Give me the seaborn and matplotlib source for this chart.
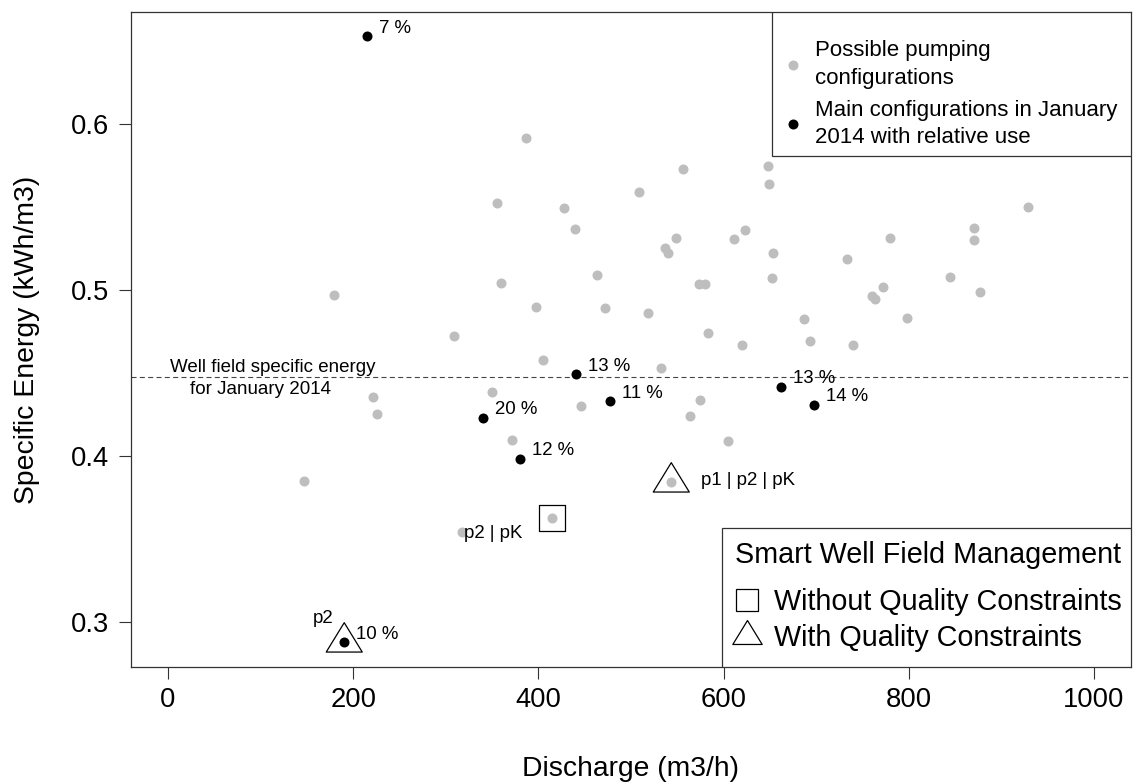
import numpy as np
import pandas as pd
import matplotlib
matplotlib.use("Agg")
import matplotlib.pyplot as plt
from matplotlib.lines import Line2D
from matplotlib.patches import Rectangle
from matplotlib.path import Path
import seaborn as sns

# possible pumping configurations (grey dots)
gray_q = [146.7, 179.5, 220.9, 225.2, 308.4, 317.8, 349.4, 355.3, 359.9, 371.7,
          386.1, 396.9, 404.8, 415.0, 428.0, 439.8, 446.3, 462.8, 471.4, 508.9,
          518.6, 532.7, 536.2, 539.8, 543.5, 548.9, 556.4, 563.8, 573.7, 574.8,
          580.2, 582.7, 605.2, 610.8, 620.0, 622.6, 647.8, 648.9, 652.5, 653.6,
          687.1, 692.8, 732.8, 739.3, 759.8, 763.0, 772.4, 780.0, 797.6, 844.8,
          870.7, 870.7, 876.4, 929.1]
gray_e = [0.3849, 0.4973, 0.4358, 0.4253, 0.4723, 0.3540, 0.4384, 0.5522, 0.5042, 0.4096,
          0.5914, 0.4898, 0.4578, 0.3625, 0.5496, 0.5367, 0.4303, 0.5090, 0.4892, 0.5589,
          0.4861, 0.4530, 0.5251, 0.5221, 0.3842, 0.5315, 0.5731, 0.4241, 0.5038, 0.4336,
          0.5038, 0.4741, 0.4090, 0.5305, 0.4669, 0.5363, 0.5747, 0.5640, 0.5074, 0.5223,
          0.4823, 0.4693, 0.5187, 0.4666, 0.4962, 0.4946, 0.5016, 0.5315, 0.4830, 0.5080,
          0.5373, 0.5299, 0.4988, 0.5500]

# main configurations in January 2014 (black dots) with relative use
main_q = [214.4, 440.1, 477.2, 339.7, 379.6, 661.5, 697.2, 190.3]
main_e = [0.6530, 0.4492, 0.4331, 0.4231, 0.3984, 0.4416, 0.4310, 0.2878]
main_use = ["7 %", "13 %", "11 %", "20 %", "12 %", "13 %", "14 %", "10 %"]

# well field specific energy for January 2014
well_field_energy = 0.4478

# smart well field management
without_q = [415.0]
without_e = [0.3625]
without_lab = ["p2 | pK"]
with_q = [190.3, 543.5]
with_e = [0.2878, 0.3842]
with_lab = ["p2", "p1 | p2 | pK"]

x_ticks = [0, 200, 400, 600, 800, 1000]
y_ticks = [0.3, 0.4, 0.5, 0.6]

sns.set_style("white")
plt.rcParams['font.family'] = ['Liberation Sans', 'DejaVu Sans']
plt.rcParams['text.color'] = 'black'
plt.rcParams['axes.labelcolor'] = 'black'
plt.rcParams['xtick.labelcolor'] = 'black'
plt.rcParams['ytick.labelcolor'] = 'black'

gray = '#BEBEBE'
edge = '#333333'

# triangle with its centroid on the point (like R pch=2)
tri = Path([(-1, -0.543), (1, -0.543), (0, 1.087), (-1, -0.543)],
           [Path.MOVETO, Path.LINETO, Path.LINETO, Path.CLOSEPOLY])

fig = plt.figure(figsize=(11.33, 7.82), dpi=100)
ax = fig.add_axes([0.11562, 0.14642, 0.88261, 0.83760])

sns.scatterplot(x=gray_q, y=gray_e, color=gray, s=52, linewidth=0, ax=ax, zorder=2)
sns.scatterplot(x=main_q, y=main_e, color='black', s=52, linewidth=0, ax=ax, zorder=3)
sns.scatterplot(x=without_q, y=without_e, marker='s', s=18.5 ** 2, color='black',
                facecolor='none', edgecolor='black', linewidth=0.9, ax=ax, zorder=3)
sns.scatterplot(x=with_q, y=with_e, marker=tri, s=28.2 ** 2, color='black',
                facecolor='none', edgecolor='black', linewidth=0.9, ax=ax, zorder=3)

ax.axhline(well_field_energy, color='#444444', lw=0.8, ls=(0, (4.5, 3)), zorder=1)
ax.annotate("Well field specific energy", xy=(113.4, well_field_energy), xytext=(0, 5),
            textcoords='offset pixels', ha='center', va='baseline', fontsize=13.5)
ax.annotate("for January 2014", xy=(99.9, well_field_energy), xytext=(0, -17.6),
            textcoords='offset pixels', ha='center', va='baseline', fontsize=13.5)

for q, e, lab in zip(main_q, main_e, main_use):
    ax.annotate(lab, xy=(q, e), xytext=(12, 3.5), textcoords='offset pixels',
                ha='left', va='baseline', fontsize=13.4)

ax.annotate(without_lab[0], xy=(without_q[0], without_e[0]), xytext=(-30, -19.7),
            textcoords='offset pixels', ha='right', va='baseline', fontsize=13.4)
offsets = [((-11, 19), 'right'), ((30, -3), 'left')]
for q, e, lab, (off, ha) in zip(with_q, with_e, with_lab, offsets):
    ax.annotate(lab, xy=(q, e), xytext=off, textcoords='offset pixels',
                ha=ha, va='baseline', fontsize=13.4)

ax.set_xlim(-40, 1040)
ax.set_ylim(0.2726, 0.6672)
ax.set_xticks(x_ticks)
ax.set_xticklabels([str(t) for t in x_ticks])
ax.set_yticks(y_ticks)
ax.set_yticklabels([str(t) for t in y_ticks])
ax.tick_params(axis='both', direction='out', length=8.3, width=0.8, color=edge,
               labelsize=19.7, labelcolor='black', left=True, bottom=True)
ax.tick_params(axis='x', pad=6)
ax.tick_params(axis='y', pad=7.5)
for s in ax.spines.values():
    s.set_color(edge)
    s.set_linewidth(0.9)

ax.set_xlabel("Discharge (m3/h)", fontsize=20.3, labelpad=31, color='black')
ax.set_ylabel("Specific Energy (kWh/m3)", fontsize=20.4, labelpad=22, color='black')

# legend 1 (top right)
ax.add_patch(Rectangle((0.6407, 0.7814), 0.3593, 0.2186, transform=ax.transAxes,
                       facecolor='white', edgecolor=edge, lw=0.9, zorder=4))
h1 = [Line2D([], [], ls='none', marker='o', ms=7.2, color=gray, mec='none'),
      Line2D([], [], ls='none', marker='o', ms=7.2, color='black', mec='none')]
leg1 = ax.legend(h1, ["Possible pumping\nconfigurations",
                      "Main configurations in January\n2014 with relative use"],
                 loc='upper left', bbox_to_anchor=(0.6513, 0.9575), frameon=False,
                 borderpad=0, borderaxespad=0, fontsize=16, handlelength=1,
                 handletextpad=0.46, labelspacing=0.5, labelcolor='black')
for t in leg1.get_texts():
    t.set_linespacing(1.4)
leg1.set_zorder(5)
ax.add_artist(leg1)

# legend 2 (bottom right)
ax.add_patch(Rectangle((0.5906, 0.0), 0.4094, 0.2125, transform=ax.transAxes,
                       facecolor='white', edgecolor=edge, lw=0.9, zorder=4))
ax.text(0.6036, 0.1591, "Smart Well Field Management", transform=ax.transAxes,
        ha='left', va='baseline', fontsize=20.7, color='black', zorder=5)
h2 = [Line2D([], [], ls='none', marker='s', ms=15.5, mfc='none', mec='black', mew=0.9),
      Line2D([], [], ls='none', marker=tri, ms=23, mfc='none', mec='black', mew=0.9)]
leg2 = ax.legend(h2, ["Without Quality Constraints", "With Quality Constraints"],
                 loc='upper left', bbox_to_anchor=(0.6016, 0.1209), frameon=False,
                 borderpad=0, borderaxespad=0, fontsize=20.7, handlelength=1,
                 handletextpad=0.44, labelspacing=0.27, labelcolor='black')
leg2.set_zorder(5)

fig.savefig("out.png", dpi=100)
